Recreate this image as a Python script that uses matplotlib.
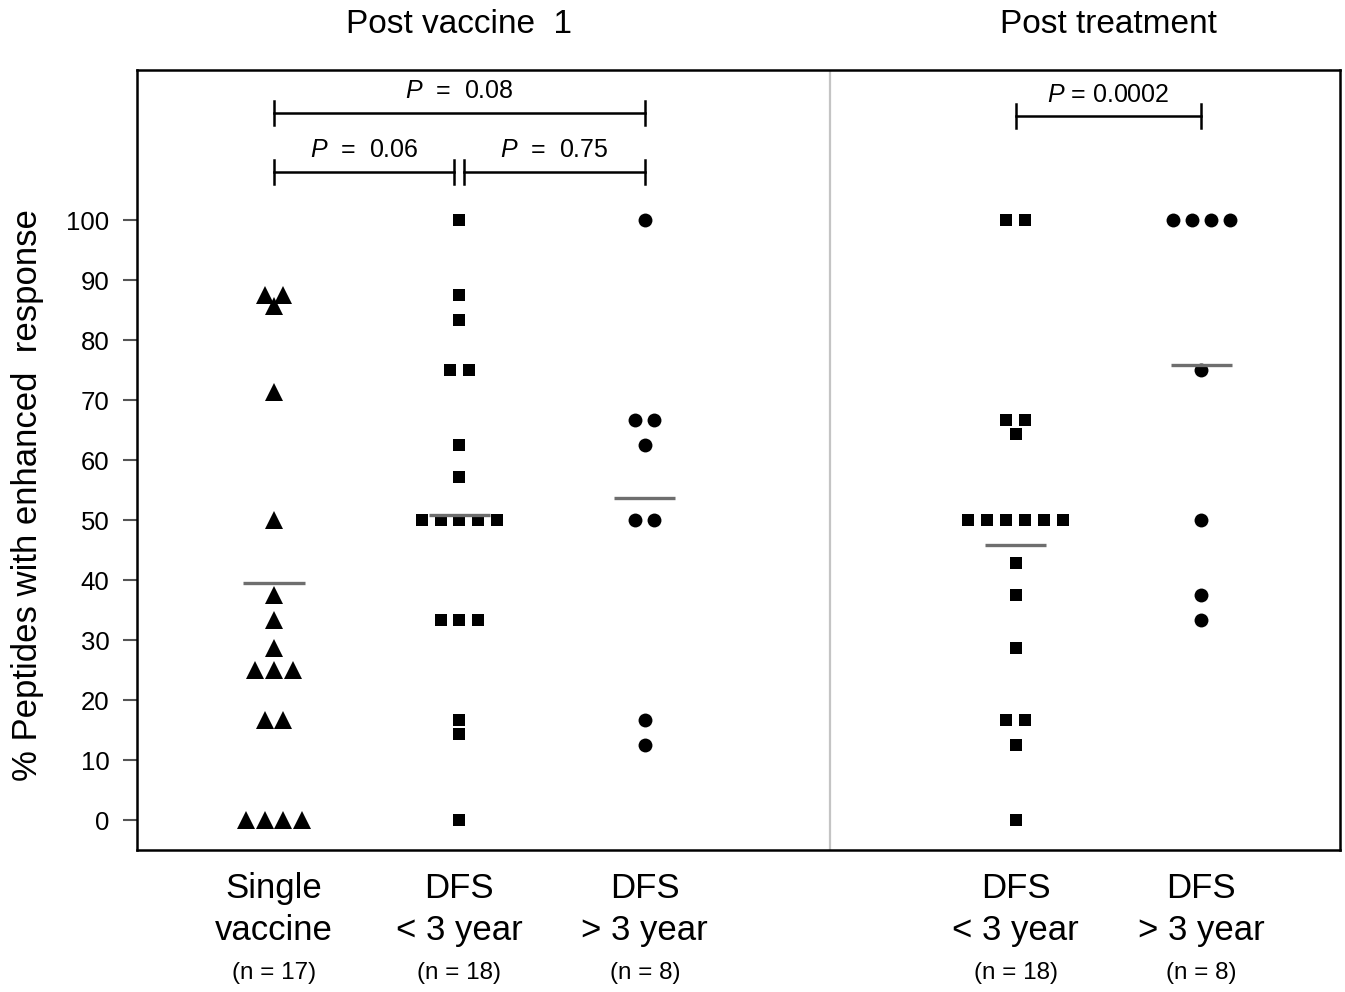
import numpy as np
import matplotlib
matplotlib.use('Agg')
import matplotlib.pyplot as plt

plt.rcParams['font.family'] = ['Liberation Sans', 'DejaVu Sans']
plt.rcParams['mathtext.fontset'] = 'custom'
plt.rcParams['mathtext.rm'] = 'Liberation Sans'
plt.rcParams['mathtext.it'] = 'Liberation Sans:italic'

# Group layout and labels
positions = [1, 2, 3, 5, 6]
group_top = ['Single', 'DFS', 'DFS', 'DFS', 'DFS']
group_bottom = ['vaccine', '< 3 year', '> 3 year', '< 3 year', '> 3 year']
group_n = ['(n = 17)', '(n = 18)', '(n = 8)', '(n = 18)', '(n = 8)']
markers = ['^', 's', 'o', 's', 'o']
marker_sizes = [12.5, 9, 10, 9, 10]

# % peptides with enhanced response, per patient
single_vaccine = [87.5, 87.5, 85.7, 71.4, 50, 37.5, 33.3, 28.6, 25, 25, 25, 16.7, 16.7, 0, 0, 0, 0]
dfs_lt3_post_vac = [100, 87.5, 83.3, 75, 75, 62.5, 57.1, 50, 50, 50, 50, 50, 33.3, 33.3, 33.3, 16.7, 14.3, 0]
dfs_gt3_post_vac = [100, 66.7, 66.7, 62.5, 50, 50, 16.7, 12.5]
dfs_lt3_post_tx = [100, 100, 66.7, 66.7, 64.3, 50, 50, 50, 50, 50, 50, 42.9, 37.5, 28.6, 16.7, 16.7, 12.5, 0]
dfs_gt3_post_tx = [100, 100, 100, 100, 75, 50, 37.5, 33.3]
groups = [single_vaccine, dfs_lt3_post_vac, dfs_gt3_post_vac, dfs_lt3_post_tx, dfs_gt3_post_tx]

# gray summary lines
group_means = [39.5, 50.8, 53.6, 45.8, 75.9]

# significance brackets: x start, x end, p value
brackets_x1 = [1, 1, 2.027, 5]
brackets_x2 = [3, 1.973, 3, 6]
brackets_y = [117.9, 108.0, 108.0, 117.3]
brackets_p = ['0.08', '0.06', '0.75', '0.0002']

fig = plt.figure(figsize=(13.45, 9.92), dpi=100)
ax = fig.add_axes([0.1019, 0.1431, 0.8944, 0.7863])

step = 0.102
for pos, vals, m, ms in zip(positions, groups, markers, marker_sizes):
    vals = np.array(vals)
    xs = np.zeros(len(vals))
    for v in np.unique(vals):
        idx = np.where(vals == v)[0]
        k = len(idx)
        xs[idx] = pos + (np.arange(k) - (k - 1) / 2) * step
    ax.plot(xs, vals, linestyle='none', marker=m, markersize=ms,
            color='black', markeredgewidth=0, zorder=3)

for pos, mean in zip(positions, group_means):
    ax.plot([pos - 0.165, pos + 0.165], [mean, mean], color='#6e6e6e',
            linewidth=2.4, solid_capstyle='butt', zorder=4)

# divider between the two panels
ax.axvline(4.0, color='#c4c4c4', linewidth=1.6, zorder=1)

for x1, x2, y, p in zip(brackets_x1, brackets_x2, brackets_y, brackets_p):
    ax.plot([x1, x2], [y, y], color='black', linewidth=1.8)
    for xe in (x1, x2):
        ax.plot([xe, xe], [y - 2.0, y + 2.0], color='black', linewidth=1.8)
    label = '$P$ = ' + p if p == '0.0002' else '$P$  =  ' + p
    ax.text((x1 + x2) / 2, y + 1.6, label, ha='center', va='bottom', fontsize=18)

ax.set_xlim(0.2615, 6.749)
ax.set_ylim(-5, 125)
ax.set_yticks(np.arange(0, 101, 10))
ax.set_xticks([])
ax.tick_params(axis='y', length=10, width=1.5, color='#555555', pad=10, labelsize=18.5)
for spine in ax.spines.values():
    spine.set_linewidth(1.8)

trans = ax.get_xaxis_transform()
for pos, top, bottom, n in zip(positions, group_top, group_bottom, group_n):
    ax.text(pos, -0.0487, top, transform=trans, ha='center', va='center', fontsize=25)
    ax.text(pos, -0.1035, bottom, transform=trans, ha='center', va='center', fontsize=25)
    ax.text(pos, -0.1577, n, transform=trans, ha='center', va='center', fontsize=17.5)

ax.text(2, 1.058, 'Post vaccine  1', transform=trans, ha='center', va='center', fontsize=24)
ax.text(5.5, 1.058, 'Post treatment', transform=trans, ha='center', va='center', fontsize=24)

fig.text(28 / 1345, 1 - 495 / 992, '% Peptides with enhanced  response',
         rotation=90, ha='center', va='center', fontsize=25)

fig.savefig('out.png', dpi=100)
